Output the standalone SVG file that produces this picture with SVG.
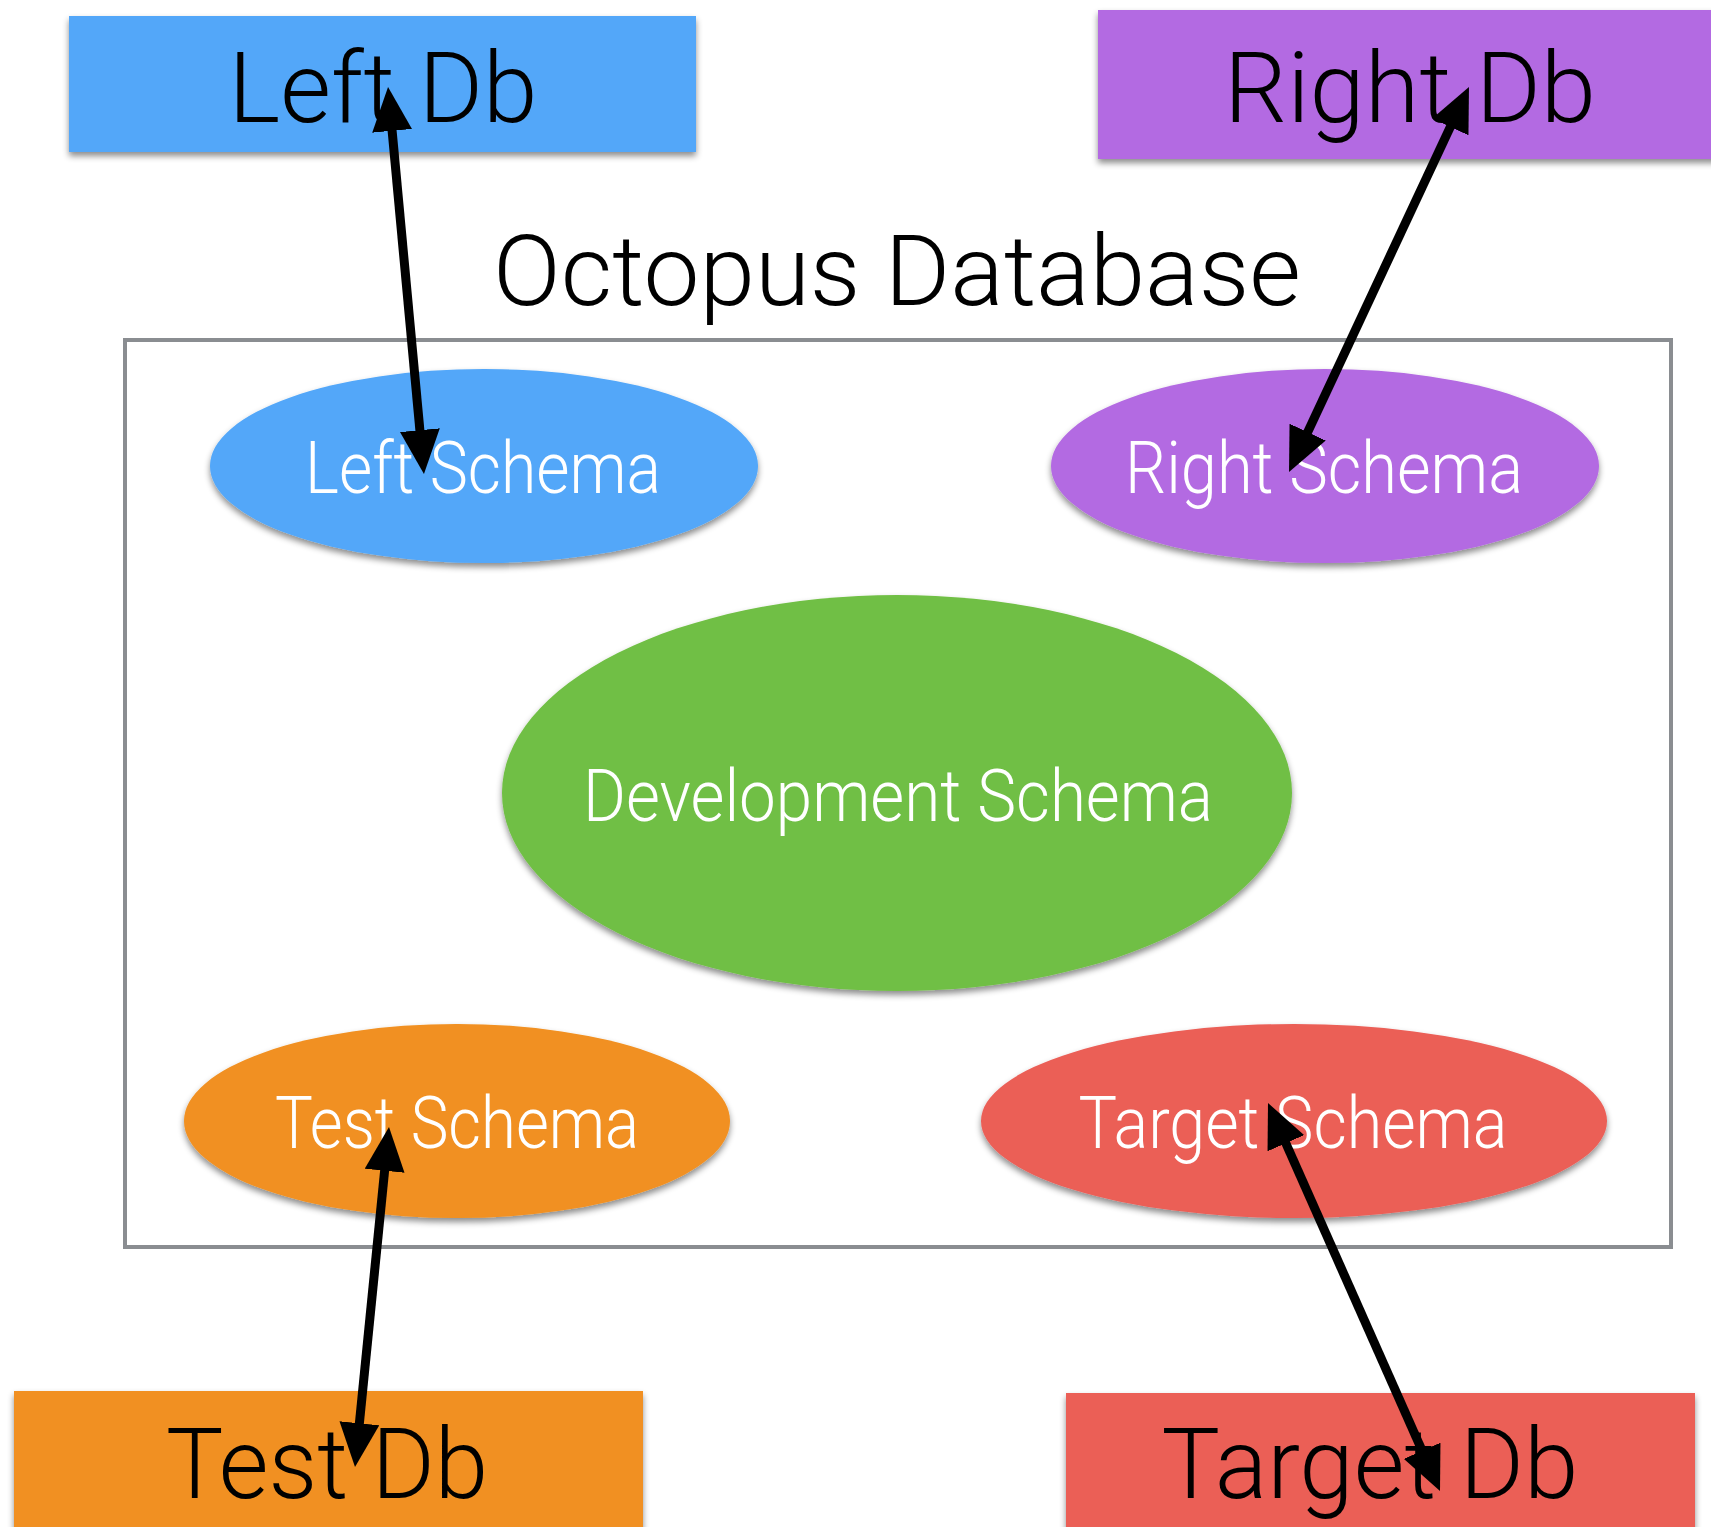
<svg xmlns="http://www.w3.org/2000/svg" width="1711" height="1527" viewBox="0 0 1711 1527">
<defs>
<filter id="sh" x="-10%" y="-10%" width="120%" height="130%">
<feDropShadow dx="0" dy="4" stdDeviation="3" flood-color="#000" flood-opacity="0.45"/>
</filter>
<marker id="ah" markerUnits="userSpaceOnUse" viewBox="0 0 44 40" markerWidth="44" markerHeight="40" refX="24" refY="20" orient="auto-start-reverse">
<path d="M0,0 L44,20 L0,40 z" fill="#000"/>
</marker>
<style>
.t{font-family:"Helvetica Neue",Roboto,"Liberation Sans",sans-serif;font-weight:300;text-anchor:middle}
.big{font-size:98px;fill:#000}
.sm{font-size:72px;fill:#fff}
.conn line{stroke:#000;stroke-width:9;marker-start:url(#ah);marker-end:url(#ah)}
</style>
</defs>
<rect width="1711" height="1527" fill="#fff"/>
<g id="octopus">
<rect x="125" y="340" width="1546" height="907" fill="none" stroke="#8a8d91" stroke-width="4"/>
<text class="t big" x="897" y="305" textLength="808" lengthAdjust="spacingAndGlyphs">Octopus Database</text>
</g>
<g id="leftdb">
<rect x="69" y="16" width="627" height="136" fill="#52a7f9" filter="url(#sh)"/>
<text class="t big" x="383" y="122" textLength="309" lengthAdjust="spacingAndGlyphs">Left Db</text>
</g>
<g id="rightdb">
<rect x="1098" y="10" width="620" height="149" fill="#b36ae2" filter="url(#sh)"/>
<text class="t big" x="1410" y="122" textLength="372" lengthAdjust="spacingAndGlyphs">Right Db</text>
</g>
<g id="leftschema">
<ellipse cx="484" cy="466" rx="274" ry="97" fill="#52a7f9" filter="url(#sh)"/>
<text class="t sm" x="483" y="493" textLength="356" lengthAdjust="spacingAndGlyphs">Left Schema</text>
</g>
<g id="rightschema">
<ellipse cx="1325" cy="466" rx="274" ry="97" fill="#b36ae2" filter="url(#sh)"/>
<text class="t sm" x="1324" y="493" textLength="398" lengthAdjust="spacingAndGlyphs">Right Schema</text>
</g>
<g id="devschema">
<ellipse cx="897" cy="793" rx="395" ry="198" fill="#70bf44" filter="url(#sh)"/>
<text class="t sm" x="898" y="821" textLength="630" lengthAdjust="spacingAndGlyphs">Development Schema</text>
</g>
<g id="testschema">
<ellipse cx="457" cy="1121" rx="273" ry="97" fill="#f19020" filter="url(#sh)"/>
<text class="t sm" x="457" y="1148" textLength="364" lengthAdjust="spacingAndGlyphs">Test Schema</text>
</g>
<g id="targetschema">
<ellipse cx="1294" cy="1121" rx="313" ry="97" fill="#eb5e57" filter="url(#sh)"/>
<text class="t sm" x="1293" y="1148" textLength="429" lengthAdjust="spacingAndGlyphs">Target Schema</text>
</g>
<g id="testdb">
<rect x="14" y="1391" width="629" height="140" fill="#f19020" filter="url(#sh)"/>
<text class="t big" x="327" y="1498" textLength="322" lengthAdjust="spacingAndGlyphs">Test Db</text>
</g>
<g id="targetdb">
<rect x="1066" y="1393" width="629" height="140" fill="#eb5e57" filter="url(#sh)"/>
<text class="t big" x="1370" y="1498" textLength="417" lengthAdjust="spacingAndGlyphs">Target Db</text>
</g>
<g id="connectors" class="conn">
<line x1="389.9" y1="106.9" x2="422.1" y2="454.1"/>
<line x1="1460.5" y1="105.1" x2="1297.5" y2="453.9"/>
<line x1="387" y1="1146.9" x2="357" y2="1447.1"/>
<line x1="1276.1" y1="1121.3" x2="1431.9" y2="1472.7"/>
</g>
</svg>
